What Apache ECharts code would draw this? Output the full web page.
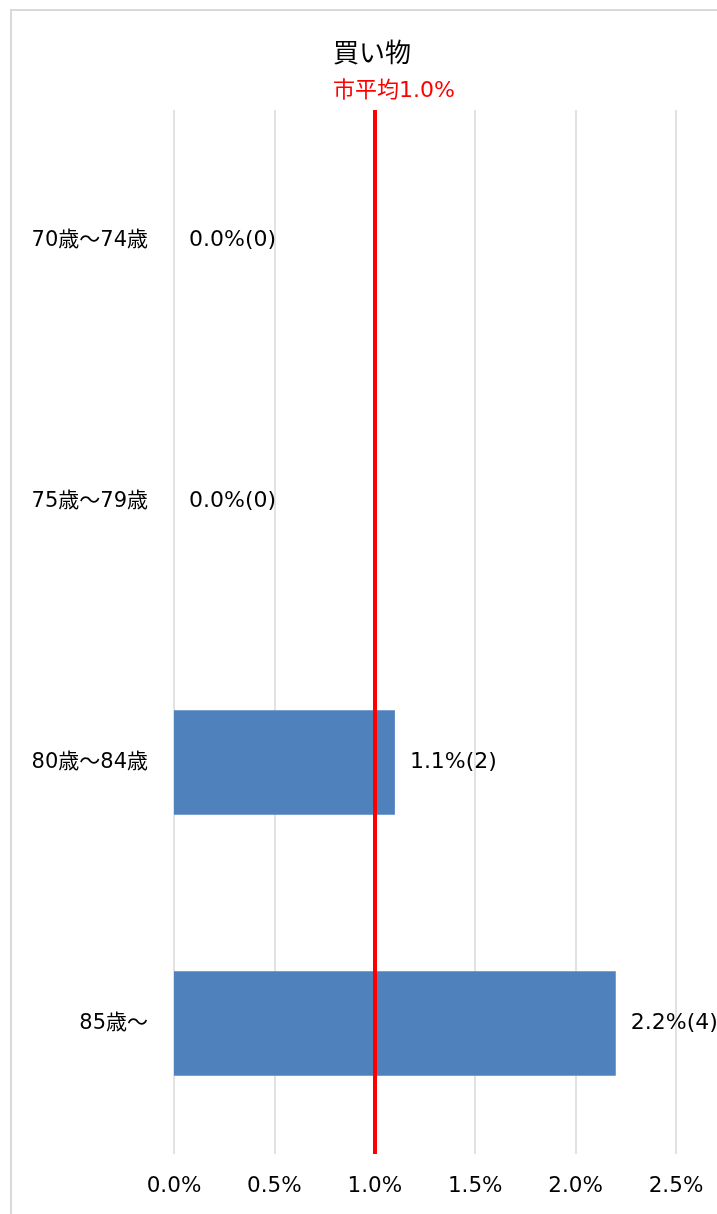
<!DOCTYPE html>
<html>
<head>
<meta charset="utf-8">
<script src="https://cdn.jsdelivr.net/npm/echarts@6/dist/echarts.min.js"></script>
<style>
html,body{margin:0;padding:0;background:#fff;}
#c{width:717px;height:1214px;}
</style>
</head>
<body>
<div id="c"></div>
<script>
const categories = ['70歳～74歳', '75歳～79歳', '80歳～84歳', '85歳～'];
const values = [0.0, 0.0, 1.1, 2.2];
const counts = [0, 0, 2, 4];
const cityAverage = 1.0;
const xTicks = [0, 0.5, 1.0, 1.5, 2.0, 2.5];

const FONT = "'DejaVu Sans', 'Noto Sans CJK JP', sans-serif";
const chart = echarts.init(document.getElementById('c'));
chart.setOption({
  animation: false,
  backgroundColor: '#fff',
  textStyle: { fontFamily: FONT },
  graphic: [{
    type: 'rect', silent: true, z: -1,
    shape: { x: 11, y: 10, width: 900, height: 1400 },
    style: { fill: 'none', stroke: '#d9d9d9', lineWidth: 2 }
  }],
  title: [{
    text: '買い物', left: 328, top: 37,
    textStyle: { fontFamily: FONT, fontSize: 26, fontWeight: 'normal', color: '#000' }
  }, {
    text: '市平均' + cityAverage.toFixed(1) + '%', left: 328, top: 75,
    textStyle: { fontFamily: FONT, fontSize: 22, fontWeight: 'normal', color: '#ff0000' }
  }],
  grid: { left: 174, right: 41, top: 110, bottom: 60, containLabel: false },
  xAxis: {
    type: 'value', min: xTicks[0], max: xTicks[xTicks.length - 1], interval: 0.5,
    axisLine: { show: false }, axisTick: { show: false },
    splitLine: { show: true, lineStyle: { color: '#d9d9d9', width: 1.5 } },
    axisLabel: { margin: 22, fontSize: 21.5, color: '#000', fontFamily: FONT,
      formatter: v => v.toFixed(1) + '%' }
  },
  yAxis: {
    type: 'category', data: categories, inverse: true,
    axisLine: { show: false }, axisTick: { show: false },
    axisLabel: { margin: 26, fontSize: 21, color: '#000', fontFamily: FONT }
  },
  series: [{
    type: 'bar',
    data: values,
    barWidth: '40%',
    itemStyle: { color: '#4f81bd' },
    label: {
      show: true, position: 'right', distance: 15, fontSize: 22, color: '#000', fontFamily: FONT,
      formatter: p => values[p.dataIndex].toFixed(1) + '%(' + counts[p.dataIndex] + ')'
    },
    markLine: {
      silent: true, symbol: ['none', 'none'],
      label: { show: false },
      lineStyle: { color: '#ff0000', width: 4, type: 'solid' },
      data: [{ xAxis: cityAverage }]
    }
  }]
});
</script>
</body>
</html>
